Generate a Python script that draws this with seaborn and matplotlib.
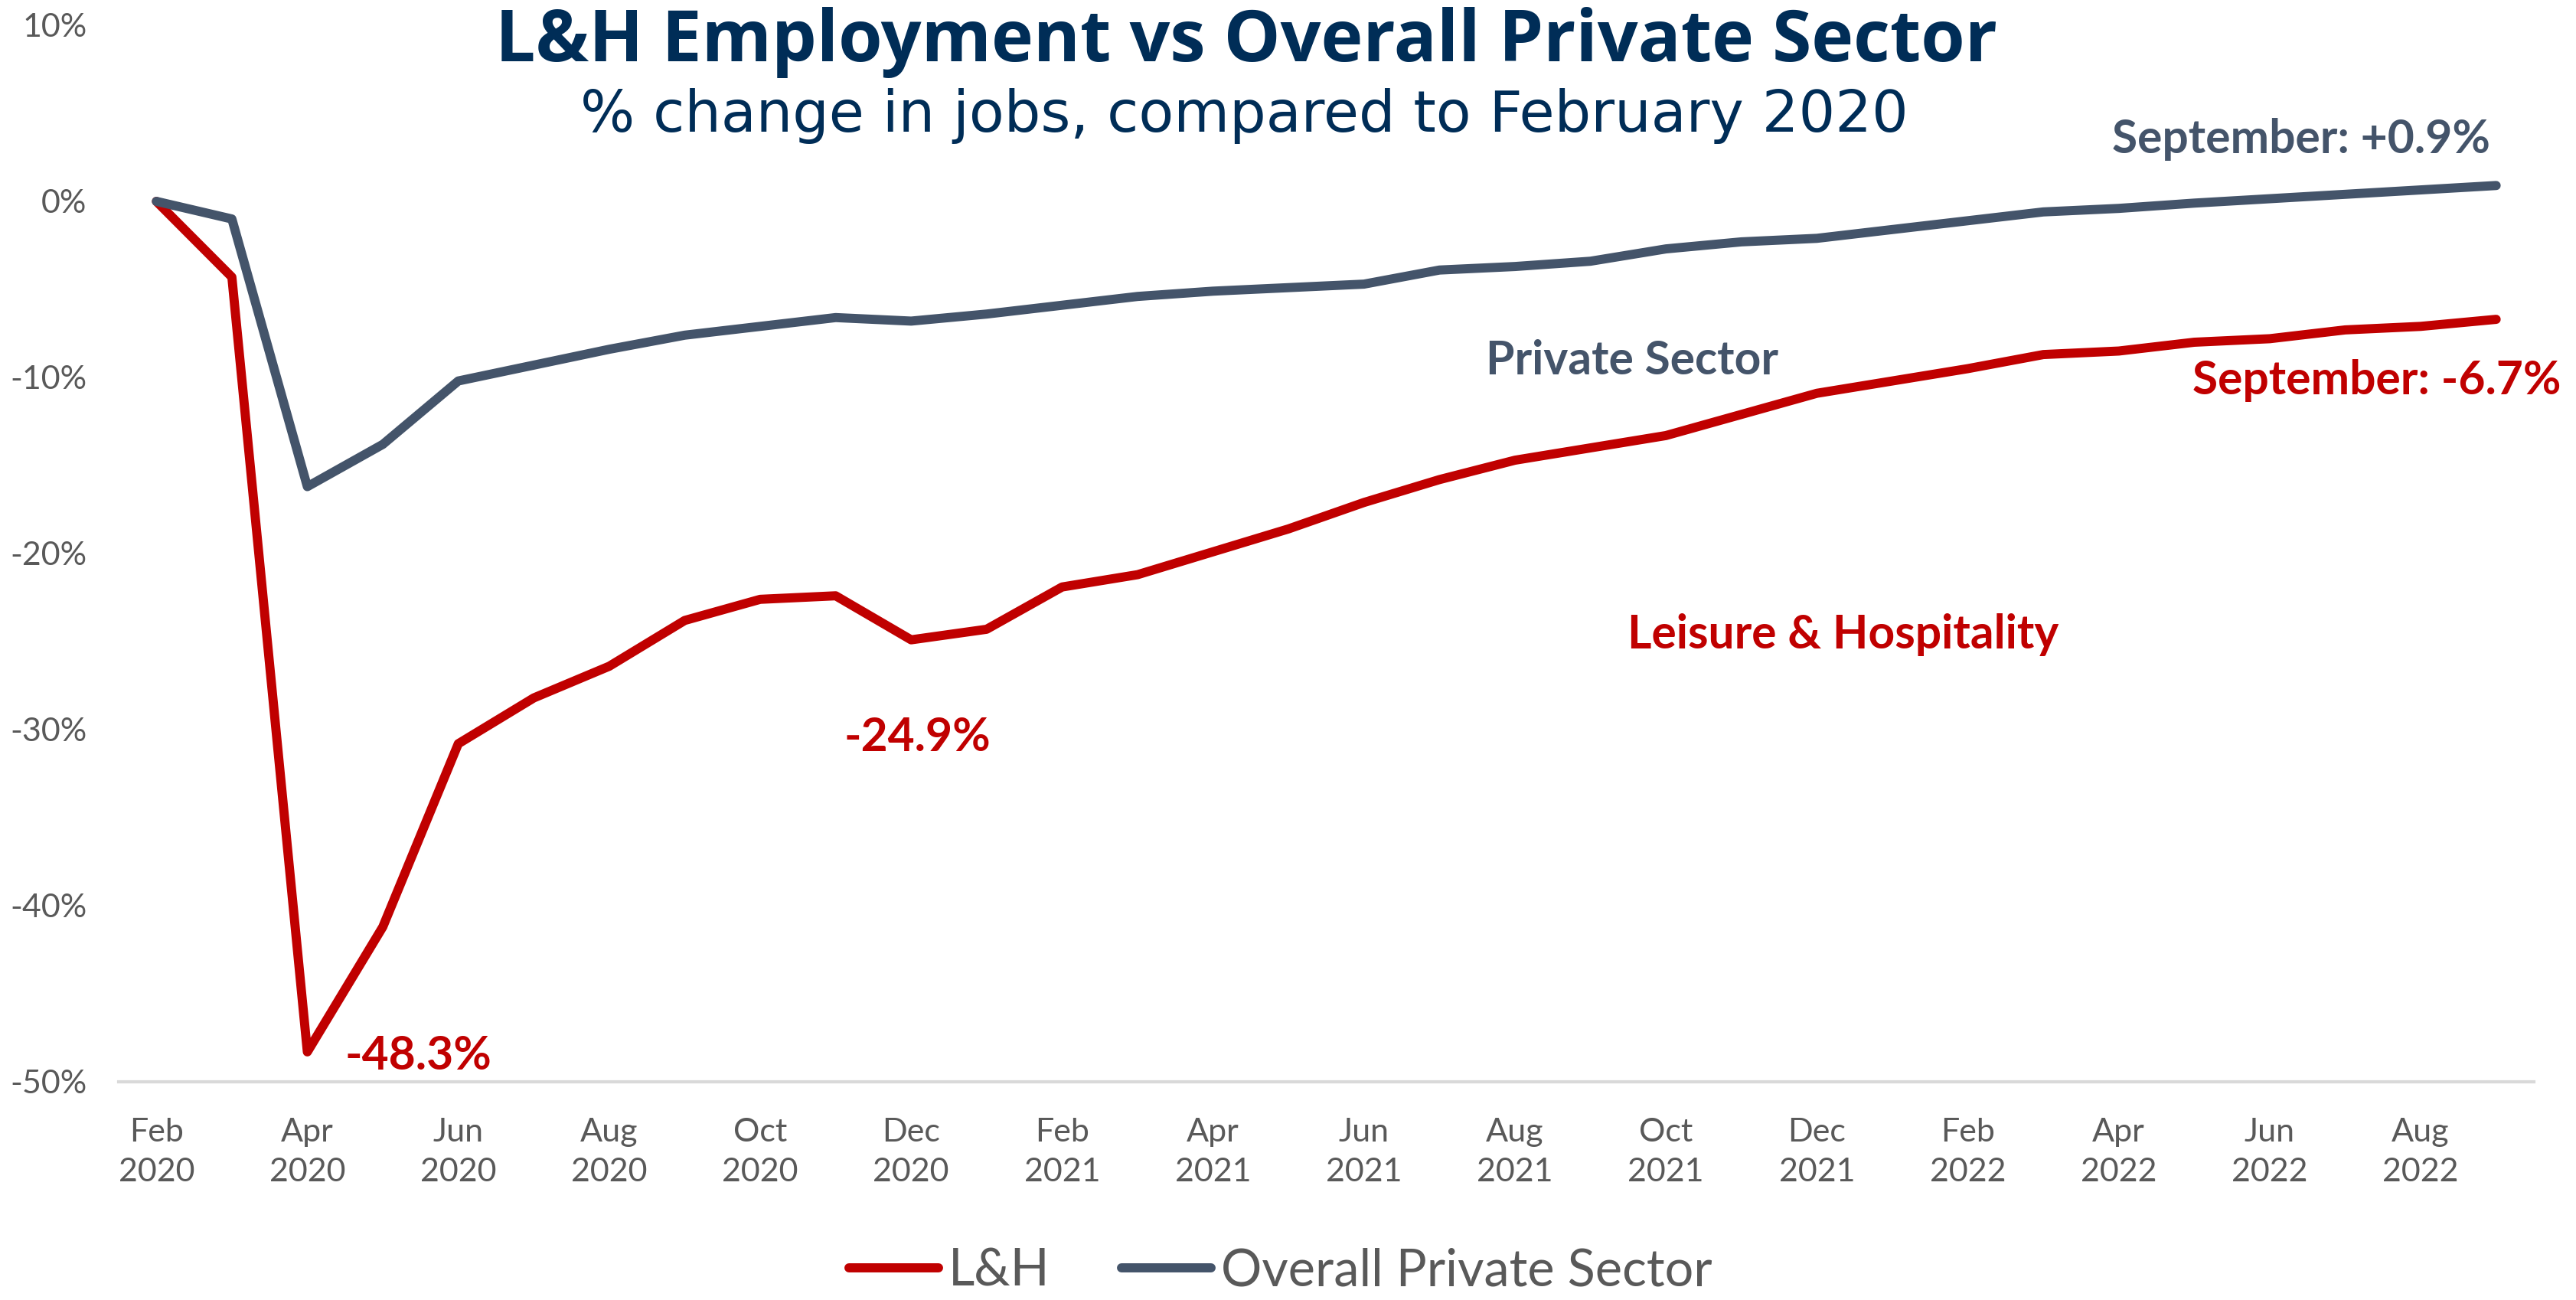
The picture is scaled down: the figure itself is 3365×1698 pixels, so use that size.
import numpy as np
import pandas as pd
import seaborn as sns
import matplotlib.pyplot as plt
from matplotlib.lines import Line2D

# Monthly observations, Feb 2020 - Sep 2022
months = [
    "Feb 2020", "Mar 2020", "Apr 2020", "May 2020", "Jun 2020", "Jul 2020",
    "Aug 2020", "Sep 2020", "Oct 2020", "Nov 2020", "Dec 2020", "Jan 2021",
    "Feb 2021", "Mar 2021", "Apr 2021", "May 2021", "Jun 2021", "Jul 2021",
    "Aug 2021", "Sep 2021", "Oct 2021", "Nov 2021", "Dec 2021", "Jan 2022",
    "Feb 2022", "Mar 2022", "Apr 2022", "May 2022", "Jun 2022", "Jul 2022",
    "Aug 2022", "Sep 2022",
]

# % change in jobs vs February 2020
lh_pct = [
    0.0, -4.3, -48.3, -41.2, -30.8, -28.2, -26.4, -23.8, -22.6, -22.4,
    -24.9, -24.3, -21.9, -21.2, -19.9, -18.6, -17.1, -15.8, -14.7, -14.0,
    -13.3, -12.1, -10.9, -10.2, -9.5, -8.7, -8.5, -8.0, -7.8, -7.3,
    -7.1, -6.7,
]
private_pct = [
    0.0, -1.0, -16.2, -13.8, -10.2, -9.3, -8.4, -7.6, -7.1, -6.6,
    -6.8, -6.4, -5.9, -5.4, -5.1, -4.9, -4.7, -3.9, -3.7, -3.4,
    -2.7, -2.3, -2.1, -1.6, -1.1, -0.6, -0.4, -0.1, 0.15, 0.4,
    0.65, 0.9,
]

series_names = ["L&H", "Overall Private Sector"]
y_ticks = [10, 0, -10, -20, -30, -40, -50]

RED = "#C00000"
SLATE = "#44546A"
NAVY = "#002D57"
TICK_GREY = "#595959"

n = len(months)
df = pd.DataFrame({
    "idx": list(range(n)) * 2,
    "pct": lh_pct + private_pct,
    "series": [series_names[0]] * n + [series_names[1]] * n,
})

sns.set_theme(style="white")
plt.rcParams["font.family"] = ["Lato", "DejaVu Sans"]

fig = plt.figure(figsize=(16.825, 8.49), dpi=200)
ax = fig.add_axes([155 / 3365, 1 - 1413 / 1698, 3155 / 3365, 1380 / 1698])

sns.lineplot(
    data=df, x="idx", y="pct", hue="series", hue_order=series_names,
    palette={series_names[0]: RED, series_names[1]: SLATE},
    linewidth=4.3, ax=ax, legend=False, sort=False,
)
for ln in ax.lines:
    ln.set_solid_capstyle("round")
    ln.set_solid_joinstyle("round")
    ln.set_clip_on(False)

ax.set_xlim(-0.5, n - 0.5)
ax.set_ylim(-50, 10)
ax.set_yticks(y_ticks)
ax.set_yticklabels([f"{v}%" for v in y_ticks])
tick_idx = list(range(0, n, 2))
ax.set_xticks(tick_idx)
ax.set_xticklabels([months[i].replace(" ", "\n") for i in tick_idx],
                   linespacing=1.45)
ax.set_xlabel("")
ax.set_ylabel("")

for side in ["top", "left", "right"]:
    ax.spines[side].set_visible(False)
ax.spines["bottom"].set_color("#D9D9D9")
ax.spines["bottom"].set_linewidth(1.5)
ax.tick_params(axis="both", length=0, colors=TICK_GREY, labelsize=15.5)
ax.tick_params(axis="x", pad=17)
ax.tick_params(axis="y", pad=15)

# Titles
fig.text(1628 / 3365, 1 - 80 / 1698, "L&H Employment vs Overall Private Sector",
         ha="center", va="baseline", fontsize=33.5, fontweight="bold", color=NAVY,
         family=["Open Sans", "DejaVu Sans"])
fig.text(1625 / 3365, 1 - 172 / 1698, "% change in jobs, compared to February 2020",
         ha="center", va="baseline", fontsize=27, color=NAVY,
         family=["DejaVu Sans"])

# Call-outs
note_size = 21.8
ax.text(2.5, -49.3, "-48.3%", ha="left", va="baseline", fontsize=note_size,
        fontweight="bold", color=RED)
ax.text(10.08, -31.2, "-24.9%", ha="center", va="baseline", fontsize=note_size,
        fontweight="bold", color=RED)
ax.text(19.55, -9.83, "Private Sector", ha="center", va="baseline",
        fontsize=note_size, fontweight="bold", color=SLATE)
ax.text(22.35, -25.4, "Leisure & Hospitality", ha="center", va="baseline",
        fontsize=note_size, fontweight="bold", color=RED)
ax.text(30.92, 2.74, "September: +0.9%", ha="right", va="baseline",
        fontsize=note_size, fontweight="bold", color=SLATE)
ax.text(31.86, -10.95, "September: -6.7%", ha="right", va="baseline",
        fontsize=note_size, fontweight="bold", color=RED)

# Legend
handles = [Line2D([0], [0], color=c, linewidth=4.3, solid_capstyle="round")
           for c in (RED, SLATE)]
leg = fig.legend(handles, series_names, loc="center", ncol=2,
                 bbox_to_anchor=(1673 / 3365, 1 - 1660 / 1698), frameon=False,
                 fontsize=24, handlelength=1.75, handletextpad=0.2,
                 columnspacing=1.4)
for t in leg.get_texts():
    t.set_color(TICK_GREY)

fig.savefig("out.png", dpi=200, facecolor="white")
